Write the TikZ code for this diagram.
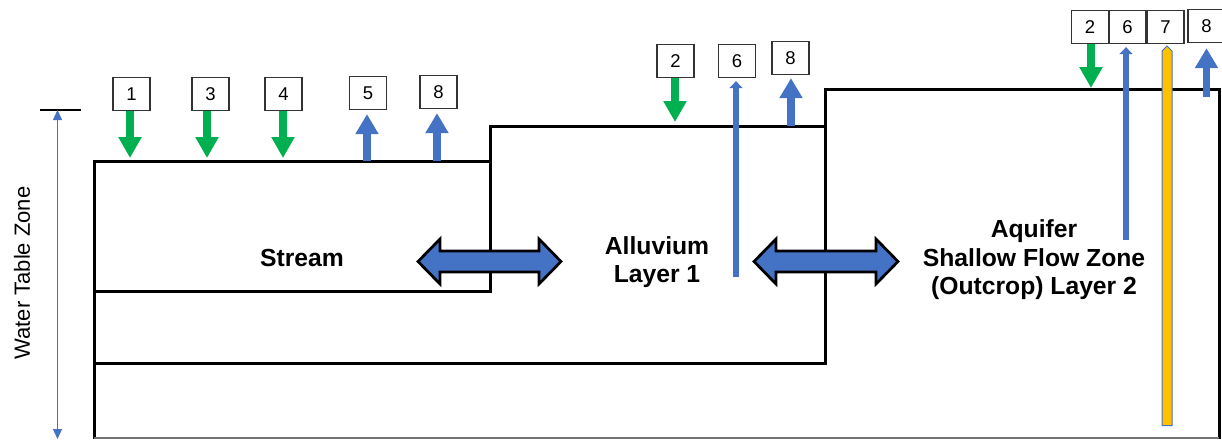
\documentclass[tikz,border=0pt]{standalone}
\usepackage{fontspec}
\setmainfont{Liberation Sans}
\usetikzlibrary{arrows.meta}
\definecolor{mygreen}{HTML}{00B050}
\definecolor{myblue}{HTML}{4472C4}
\definecolor{myorange}{HTML}{FFC000}
\definecolor{myedge}{HTML}{2F528F}
\newcommand\dblarr[3]{%
  \draw[dblarrow] (#1,#3) -- (#1+22,#3-22.5) -- (#1+22,#3-10.5) -- (#2-22,#3-10.5) -- (#2-22,#3-22.5) -- (#2,#3)
   -- (#2-22,#3+22.5) -- (#2-22,#3+10.5) -- (#1+22,#3+10.5) -- (#1+22,#3+22.5) -- cycle;}
\begin{document}
\begin{tikzpicture}[x=1pt,y=-1pt,
  numbox/.style={draw=black!80, line width=1.3pt, fill=white, minimum width=37pt, minimum height=33pt, inner sep=0pt, font=\fontsize{18.5}{18.5}\selectfont},
  layerline/.style={draw=black, line width=3pt, line cap=rect},
  downarr/.style={draw=mygreen, line width=7.5pt, -{Triangle[width=22pt,length=21pt]}},
  uparr/.style={draw=myblue, line width=7.5pt, -{Triangle[width=22pt,length=20pt]}},
  thinarr/.style={draw=myblue, line width=6pt, -{Triangle[width=13pt,length=7pt]}},
  layertext/.style={font=\fontsize{24.7}{28.5}\selectfont\bfseries, align=center},
  dblarrow/.style={fill=myblue, draw=black, line width=2.7pt, line join=miter},
  wtzarr/.style={draw=myblue, line width=1.2pt, {Triangle[width=9pt,length=10pt]}-{Triangle[width=9pt,length=10pt]}},
]
\useasboundingbox (0,0) rectangle (1222,439);

% layer outlines
\draw[layerline] (94,437.5) -- (94,161) -- (490,161) -- (490,126) -- (825,126) -- (825,89.5) -- (1219,89.5) -- (1219,437.5);
\draw[layerline] (94,291.5) -- (490,291.5) -- (490,161);
\draw[layerline] (94,363.5) -- (825,363.5) -- (825,126);
\draw[draw=black!55, line width=2pt] (94,437.8) -- (1219,437.8);

% water table zone
\coordinate (wtop) at (57.5,110);
\coordinate (wbot) at (57.5,439);
\draw[line width=2pt] (40,109.5) -- (81,109.5);
\draw[wtzarr] (wtop) -- (wbot);
\node[rotate=90, font=\fontsize{22}{22}\selectfont] (wtz) at (22,273) {Water Table Zone};

% layer labels
\node[layertext] (stream) at (302,258) {Stream};
\node[layertext] (alluv) at (657,262) {Alluvium\\Layer 1};
\node[layertext] (aquif) at (1034,260) {Aquifer\\Shallow Flow Zone\\(Outcrop) Layer 2};

% exchange arrows
\dblarr{418}{561}{261.5}
\dblarr{754}{898}{261.5}

% stream boxes
\node[numbox] (b1) at (131.5,94) {1};
\node[numbox] (b3) at (210.5,94) {3};
\node[numbox] (b4) at (283.5,94) {4};
\node[numbox] (b5) at (368,93) {5};
\node[numbox] (b8a) at (438.5,92) {8};
\coordinate (s1) at (130,158);
\coordinate (s3) at (207,158);
\coordinate (s4) at (283,158);
\coordinate (s5) at (367,161);
\coordinate (s8) at (437,161);
\draw[downarr] (b1.south -| s1) -- (s1);
\draw[downarr] (b3.south -| s3) -- (s3);
\draw[downarr] (b4.south -| s4) -- (s4);
\draw[uparr, shorten >=4pt] (s5) -- (b5.south -| s5);
\draw[uparr, shorten >=4pt] (s8) -- (b8a.south -| s8);

% alluvium boxes
\node[numbox] (b2a) at (675.5,61.3) {2};
\node[numbox] (b6a) at (737,61) {6};
\node[numbox] (b8b) at (790.5,58) {8};
\coordinate (a2) at (675,122);
\coordinate (a6) at (736,276.5);
\coordinate (a8) at (791,126);
\draw[downarr] (b2a.south -| a2) -- (a2);
\draw[thinarr, shorten >=3pt] (a6) -- (b6a.south -| a6);
\draw[uparr, shorten >=3pt] (a8) -- (b8b.south -| a8);

% aquifer boxes
\node[numbox] (b2b) at (1090,27) {2};
\node[numbox] (b6b) at (1127.5,27) {6};
\node[numbox] (b7) at (1165.5,27) {7};
\node[numbox] (b8c) at (1206.5,26) {8};
\coordinate (q2) at (1091,88);
\coordinate (q6) at (1126,240);
\coordinate (q8) at (1206.5,97);
\draw[downarr] (b2b.south -| q2) -- (q2);
\draw[thinarr, shorten >=3pt] (q6) -- (b6b.south -| q6);
\draw[uparr, shorten >=5pt] (q8) -- (b8c.south -| q8);
\draw[fill=myorange, draw=myblue, line width=1pt] (1162,425.5) -- (1162,51) -- (1167,46) -- (1172,51) -- (1172,425.5) -- cycle;
\end{tikzpicture}
\end{document}
